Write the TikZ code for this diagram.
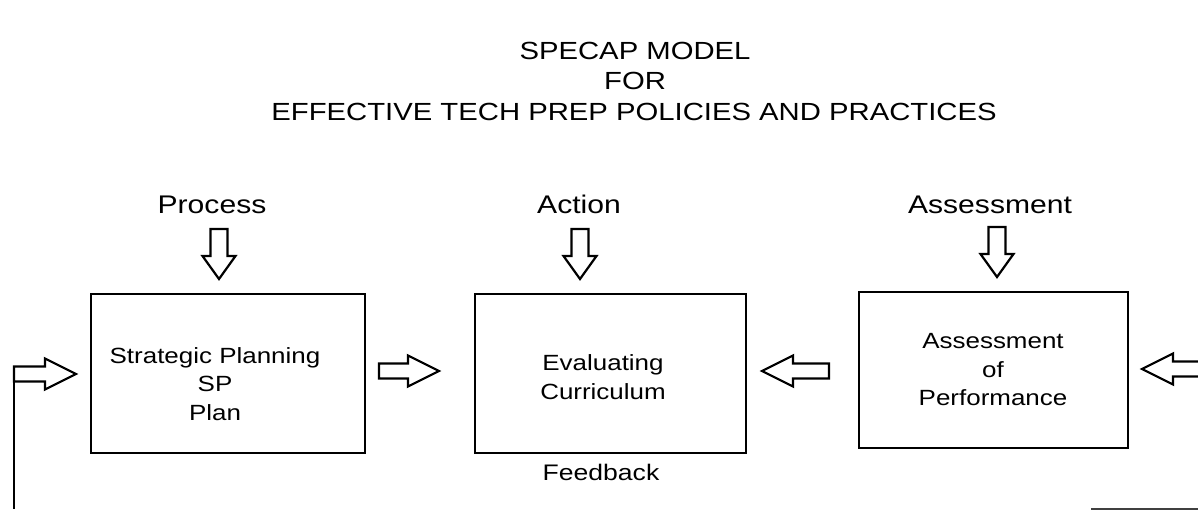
\documentclass[tikz,border=0pt]{standalone}
\usepackage{fontspec}
\setmainfont{Liberation Sans}[FakeStretch=1.18]
\begin{document}
\begin{tikzpicture}[x=1pt,y=-1pt,
  blockline/.style={line width=2.2pt, line join=miter},
  stage/.style={draw, line width=2.2pt, minimum width=#1, inner sep=0pt},
  titletext/.style={font=\fontsize{24.8}{30}\selectfont, anchor=base, inner sep=0pt},
  phase/.style={font=\fontsize{25.5}{30}\selectfont, anchor=base, inner sep=0pt},
  boxtext/.style={font=\fontsize{22}{28.5}\selectfont, align=center, inner sep=0pt},
  pics/hollow down/.style={code={
    \draw[blockline] (-8.5,0) -- (8.5,0) -- (8.5,27) -- (16.5,27) -- (0,50)
      -- (-16.5,27) -- (-8.5,27) -- cycle;}},
  pics/hollow right/.style={code={
    \draw[blockline] (0,-7.5) -- (#1,-7.5) -- (#1,-15.5) -- (#1+31,0)
      -- (#1,15.5) -- (#1,7.5) -- (0,7.5) -- cycle;}},
  pics/hollow right/.default=30]
\useasboundingbox (0,0) rectangle (1198,510);

% title
\node[titletext] (t1) at (635,60) {SPECAP MODEL};
\node[titletext] (t2) at (635,90) {FOR};
\node[titletext] (t3) at (634,121) {EFFECTIVE TECH PREP POLICIES AND PRACTICES};

% phase labels
\node[phase] (process) at (212,214) {Process};
\node[phase] (action) at (579,214) {Action};
\node[phase] (assess) at (990,214) {Assessment};

% the three stages
\node[stage=274pt, minimum height=159pt] (sp) at (228,373.5) {};
\node[stage=271pt, minimum height=159pt] (ec) at (610.5,373.5) {};
\node[stage=269pt, minimum height=156pt] (ap) at (993.5,370) {};

\node[boxtext] (sptext) at (215,384) {Strategic Planning\\SP\\Plan};
\node[boxtext] (ectext) at (603,377) {Evaluating\\Curriculum};
\node[boxtext] (aptext) at (993,370) {Assessment\\of\\Performance};

\node[phase, font=\fontsize{22.5}{27}\selectfont] (feedback) at (601,480) {Feedback};

% arrows from the phase labels into the stages
\pic at (219,229) {hollow down};
\pic at (580,229) {hollow down};
\pic at (997,227) {hollow down};

% arrows between the stages
\pic at (379,371) {hollow right=29};
\pic[xscale=-1] at (829,371) {hollow right=36};
\pic[xscale=-1] at (1210,369) {hollow right=37};

% feedback loop into strategic planning
\coordinate (loopfoot) at (14,509);
\pic at (14,374) {hollow right=31};
\draw[line width=2.2pt] (14,366.5) -- (loopfoot);

% scan edge at the lower right
\draw[line width=1.5pt, black!75] (1091,509) -- (1198,509);
\end{tikzpicture}
\end{document}
